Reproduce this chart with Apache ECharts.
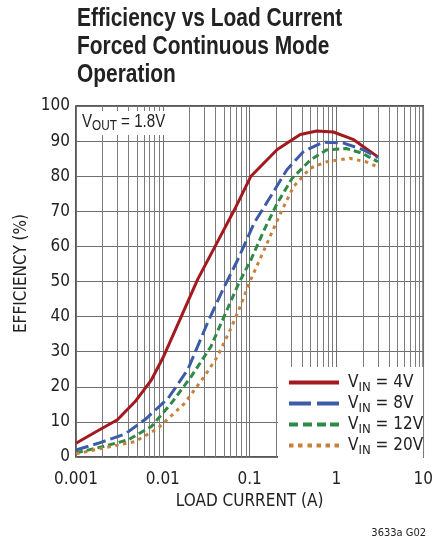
<!DOCTYPE html>
<html>
<head>
<meta charset="utf-8">
<script src="https://cdn.jsdelivr.net/npm/echarts@6/dist/echarts.min.js"></script>
<style>
html,body{margin:0;padding:0;background:#fff;}
#c{width:436px;height:548px;}
</style>
</head>
<body>
<div id="c"></div>
<script>
// ---- data ----
const seriesNames = ['4V', '8V', '12V', '20V'];
const current4 = [0.001, 0.0017, 0.003, 0.0048, 0.0074, 0.01, 0.0163, 0.0252, 0.04, 0.067, 0.1035, 0.208, 0.383, 0.593, 0.92, 1.55, 3];
const eff4     = [3.9, 7.2, 10.6, 15.8, 22, 28.2, 40, 50.6, 60, 70.5, 80, 87.6, 91.9, 92.9, 92.6, 90.5, 85.5];
const current8 = [0.001, 0.0018, 0.0037, 0.0062, 0.0115, 0.0194, 0.0327, 0.049, 0.073, 0.113, 0.175, 0.27, 0.42, 0.705, 1.19, 2.0, 3];
const eff8     = [2.0, 3.9, 6.6, 10.6, 16.7, 24.9, 38.2, 47.6, 56.2, 66.7, 74.3, 81.9, 87.1, 89.7, 89.5, 87.6, 85.3];
const current12 = [0.001, 0.002, 0.004, 0.0074, 0.0125, 0.0212, 0.0357, 0.0507, 0.075, 0.1035, 0.147, 0.208, 0.309, 0.5, 0.77, 1.29, 2.0, 3];
const eff12     = [1.2, 2.9, 4.9, 8.7, 15.3, 22.9, 31.4, 40, 49.5, 56.2, 64.7, 72.3, 79.4, 84.6, 87.5, 87.9, 86.5, 84.1];
const current20 = [0.001, 0.002, 0.0048, 0.0088, 0.0178, 0.03, 0.0425, 0.06, 0.078, 0.1, 0.153, 0.227, 0.322, 0.5, 0.77, 1.42, 2.19, 3];
const eff20     = [0.9, 2.5, 4.4, 8.2, 15.3, 22.9, 28.6, 36.3, 42.9, 49.8, 60, 69.5, 77.1, 82.3, 84.1, 85.1, 84.1, 82.6];
const xTickLabels = ['0.001', '0.01', '0.1', '1', '10'];
const yTickLabels = ['0', '10', '20', '30', '40', '50', '60', '70', '80', '90', '100'];
const minorMultipliers = [2, 3, 4, 5, 6, 7, 8, 9];
const decades = [0.001, 0.01, 0.1, 1];

// ---- styling ----
const FONT = "'DejaVu Sans Condensed', 'Liberation Sans', sans-serif";
const TFONT = "'Liberation Sans', Arial, sans-serif";
const colors = ['#a3191e', '#3c5caa', '#2f8a47', '#c7813b'];
const dashes = ['solid', [13, 5], [7, 4], [3.5, 4.5]];
const legendIcons = [
  'path://M0,0H50V4H0Z',
  'path://M0,0H22V4H0Z M28,0H50V4H28Z',
  'path://M0,0H9V4H0Z M14,0H23V4H14Z M28,0H37V4H28Z M41,0H50V4H41Z',
  'path://M0,0H4.5V4H0Z M9,0H13.5V4H9Z M18.5,0H23V4H18.5Z M27.5,0H32V4H27.5Z M36.5,0H41V4H36.5Z M45.5,0H50V4H45.5Z'
];

function pairs(xs, ys) { return xs.map((x, i) => [x, ys[i]]); }
const dataSets = [pairs(current4, eff4), pairs(current8, eff8), pairs(current12, eff12), pairs(current20, eff20)];

const minorValues = [];
decades.forEach(d => minorMultipliers.forEach(m => minorValues.push([+(d * m).toPrecision(3), 0])));

const legendRich = {
  f: { fontFamily: FONT, fontSize: 17, color: '#222', lineHeight: 17, verticalAlign: 'top', padding: [0, 0, 0, 4] },
  v: { fontFamily: FONT, fontSize: 17, color: '#222', lineHeight: 17, verticalAlign: 'top' },
  s: { fontFamily: FONT, fontSize: 13, color: '#222', lineHeight: 13, verticalAlign: 'top', padding: [7, 0, 0, 0] }
};
const boxRich = {
  v: { fontFamily: TFONT, fontSize: 18, fill: '#222', lineHeight: 18, verticalAlign: 'top' },
  s: { fontFamily: TFONT, fontSize: 14, fill: '#222', lineHeight: 14, verticalAlign: 'top', padding: [6, 0, 0, 0] }
};

const series = dataSets.map((d, i) => ({
  name: seriesNames[i],
  type: 'line',
  data: d,
  showSymbol: false,
  symbol: 'none',
  z: 5,
  lineStyle: { color: colors[i], width: 3, type: dashes[i], cap: 'butt' },
  itemStyle: { color: colors[i] }
}));
series.unshift({
  name: 'minor-grid',
  type: 'custom',
  z: 1,
  silent: true,
  data: minorValues,
  renderItem: function (params, api) {
    const x = api.value(0);
    const p1 = api.coord([x, 0]);
    const p2 = api.coord([x, 100]);
    return {
      type: 'line',
      shape: { x1: Math.round(p1[0]) + 0.5, y1: p1[1], x2: Math.round(p2[0]) + 0.5, y2: p2[1] },
      style: { stroke: '#7c7c7c', lineWidth: 1 }
    };
  }
});

const chart = echarts.init(document.getElementById('c'), null, { renderer: 'canvas' });
chart.setOption({
  animation: false,
  backgroundColor: '#fff',
  grid: {
    left: 76, right: 8, top: 106, bottom: 91,
    show: true, borderColor: '#222', borderWidth: 1.5, backgroundColor: 'transparent'
  },
  xAxis: {
    type: 'log', logBase: 10, min: 0.001, max: 10,
    name: 'LOAD CURRENT (A)', nameLocation: 'middle', nameGap: 36,
    nameTextStyle: { fontFamily: FONT, fontSize: 17, color: '#222' },
    axisLine: { show: false }, axisTick: { show: false },
    axisLabel: { fontFamily: FONT, fontSize: 17, color: '#222', margin: 14,
      formatter: (v, i) => xTickLabels[i] },
    splitLine: { show: true, lineStyle: { color: '#6e6e6e', width: 1 } }
  },
  yAxis: {
    type: 'value', min: 0, max: 100, interval: 10,
    name: 'EFFICIENCY (%)', nameLocation: 'middle', nameGap: 46,
    nameTextStyle: { fontFamily: FONT, fontSize: 17, color: '#222', padding: [0, 0, 0, 16] },
    axisLine: { show: false }, axisTick: { show: false },
    axisLabel: { fontFamily: FONT, fontSize: 17, color: '#222', margin: 6,
      formatter: (v, i) => yTickLabels[i] },
    splitLine: { show: true, lineStyle: { color: '#6e6e6e', width: 1 } }
  },
  legend: {
    data: seriesNames.map((n, i) => ({ name: n, icon: legendIcons[i] })),
    orient: 'vertical',
    left: 278, top: 367,
    backgroundColor: '#fff',
    padding: [7, 0, 2, 11],
    itemWidth: 50, itemHeight: 4, itemGap: 1,
    selectedMode: false,
    formatter: n => '{f|V}{s|IN}{v| = ' + n + '}',
    textStyle: { fontFamily: FONT, fontSize: 17, color: '#222', rich: legendRich }
  },
  graphic: [
    { type: 'text', x: 77, y: 5, scaleX: 0.805, z: 101,
      style: { text: 'Efficiency vs Load Current\nForced Continuous Mode\nOperation',
        font: 'bold 26px ' + TFONT, fill: '#222', lineHeight: 28 } },
    { type: 'rect', left: 77, top: 111, z: 100, shape: { width: 89, height: 24 }, style: { fill: '#fff' } },
    { type: 'text', x: 82, y: 113, scaleX: 0.84, z: 101,
      style: { text: '{v|V}{s|OUT}{v| = 1.8V}', rich: boxRich } },
    { type: 'text', right: 10, top: 528, z: 101,
      style: { text: '3633a G02', fontFamily: FONT, fontSize: 11, fill: '#222' } }
  ],
  series: series
});
</script>
</body>
</html>
